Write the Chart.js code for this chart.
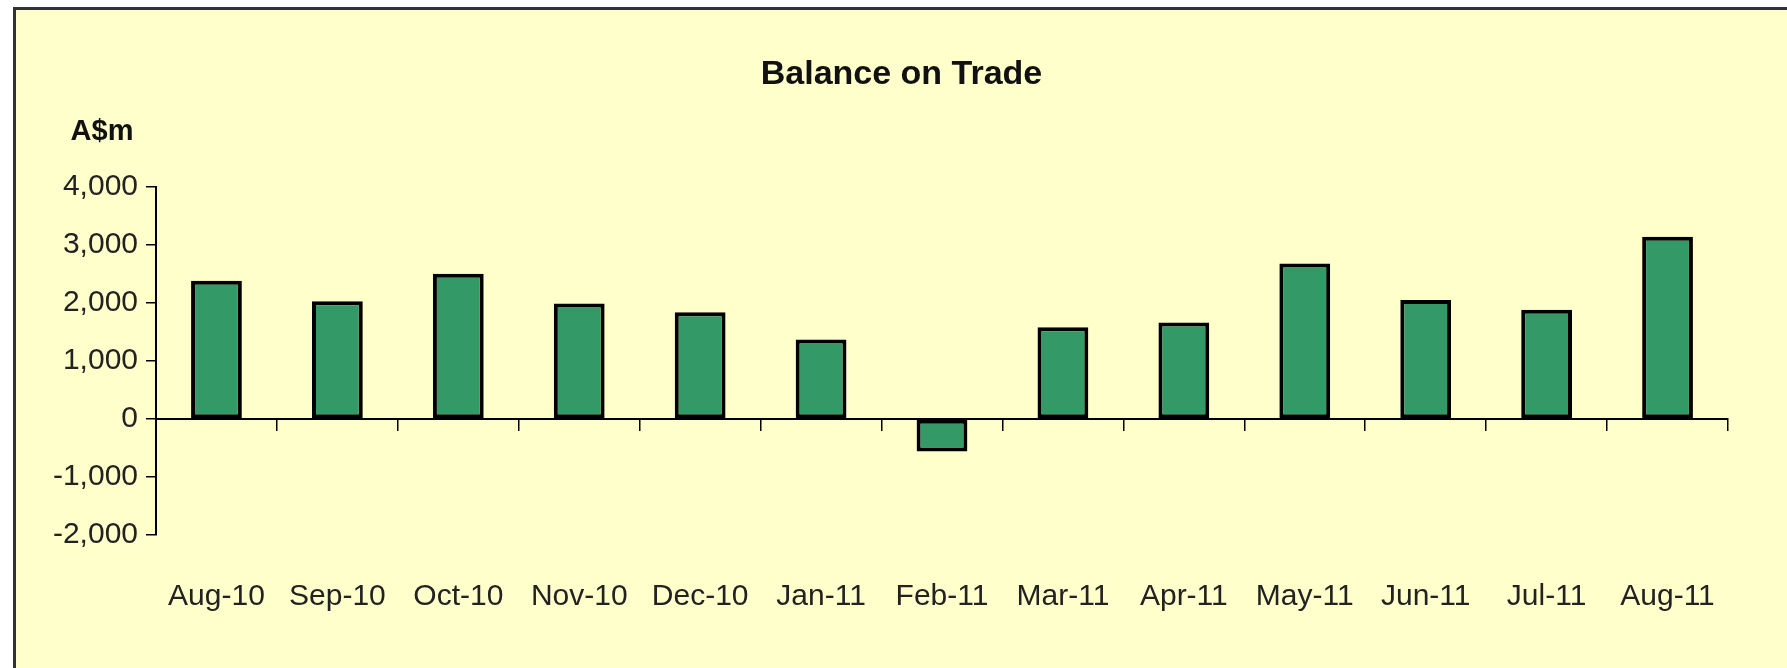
<!DOCTYPE html>
<html>
<head>
<meta charset="utf-8">
<script src="https://cdn.jsdelivr.net/npm/chart.js@4/dist/chart.umd.min.js"></script>
<style>
  html, body { margin: 0; padding: 0; background: #fff; overflow: hidden; }
  #frame {
    position: absolute; left: 13px; top: 7px;
    width: 1774px; height: 661px;
    background: #FFFFCC;
    border-top: 3px solid #333;
    border-left: 3px solid #333;
  }
  #wrap { position: absolute; left: 0; top: 0; width: 1771px; height: 658px; }
</style>
</head>
<body>
<div id="frame"><div id="wrap"><canvas id="tradeChart"></canvas></div></div>
<script>
// months shown on the x axis
const months = ['Aug-10', 'Sep-10', 'Oct-10', 'Nov-10', 'Dec-10', 'Jan-11', 'Feb-11',
                'Mar-11', 'Apr-11', 'May-11', 'Jun-11', 'Jul-11', 'Aug-11'];
// balance on trade, A$m
const balance = [2380, 2030, 2500, 1990, 1840, 1370, -560, 1580, 1660, 2680, 2050, 1880, 3140];
const yMin = -2000;
const yMax = 4000;
const yStep = 1000;

const tickFont = { family: 'Liberation Sans, Arial, sans-serif', size: 30 };

// "A$m" unit label above the value axis
const unitLabel = {
    id: 'unitLabel',
    afterDraw(chart) {
        const { ctx, chartArea } = chart;
        ctx.save();
        ctx.font = 'bold 29px Liberation Sans, Arial, sans-serif';
        ctx.fillStyle = '#111';
        ctx.textAlign = 'center';
        ctx.textBaseline = 'middle';
        ctx.fillText('A$m', chartArea.left - 54, chartArea.top - 55);
        ctx.restore();
    }
};

const ctx = document.getElementById('tradeChart').getContext('2d');
new Chart(ctx, {
    type: 'bar',
    data: {
        labels: months,
        datasets: [{
            label: 'Balance on Trade',
            data: balance,
            backgroundColor: '#339966',
            borderColor: '#000',
            borderWidth: 4,
            borderSkipped: false,
            barPercentage: 0.42,
            categoryPercentage: 1
        }]
    },
    options: {
        responsive: true,
        maintainAspectRatio: false,
        animation: false,
        layout: { padding: { left: 0, right: 0, top: 0, bottom: 9 } },
        plugins: {
            legend: { display: false },
            tooltip: { enabled: false },
            title: {
                display: true,
                text: 'Balance on Trade',
                color: '#111',
                font: { family: 'Liberation Sans, Arial, sans-serif', size: 34, weight: 'bold' },
                padding: { top: 44, bottom: 92 }
            }
        },
        scales: {
            x: {
                position: 'bottom',
                grid: { display: false, drawTicks: false },
                border: { display: false },
                ticks: { color: '#222', font: tickFont, padding: 44, maxRotation: 0, autoSkip: false }
            },
            // second category axis only for the zero line and its tick marks
            x2: {
                type: 'category',
                position: { y: 0 },
                offset: true,
                grid: { offset: true, drawOnChartArea: false, tickLength: 11, color: '#000', lineWidth: 1.5 },
                border: { display: true, color: '#000', width: 2 },
                ticks: { display: false }
            },
            y: {
                min: yMin,
                max: yMax,
                afterFit(scale) { scale.width = 140; },
                grid: { drawOnChartArea: false, tickLength: 10, color: '#000', lineWidth: 1.5 },
                border: { display: true, color: '#000', width: 2 },
                ticks: {
                    stepSize: yStep,
                    color: '#222',
                    font: tickFont,
                    padding: 8,
                    callback: v => v.toLocaleString('en-US')
                }
            },
            // empty right-hand axis, only keeps the blank margin right of the plot
            yr: {
                type: 'linear',
                position: 'right',
                afterFit(scale) { scale.width = 59; },
                grid: { display: false, drawTicks: false },
                border: { display: false },
                ticks: { display: false }
            }
        }
    },
    plugins: [unitLabel]
});
</script>
</body>
</html>
